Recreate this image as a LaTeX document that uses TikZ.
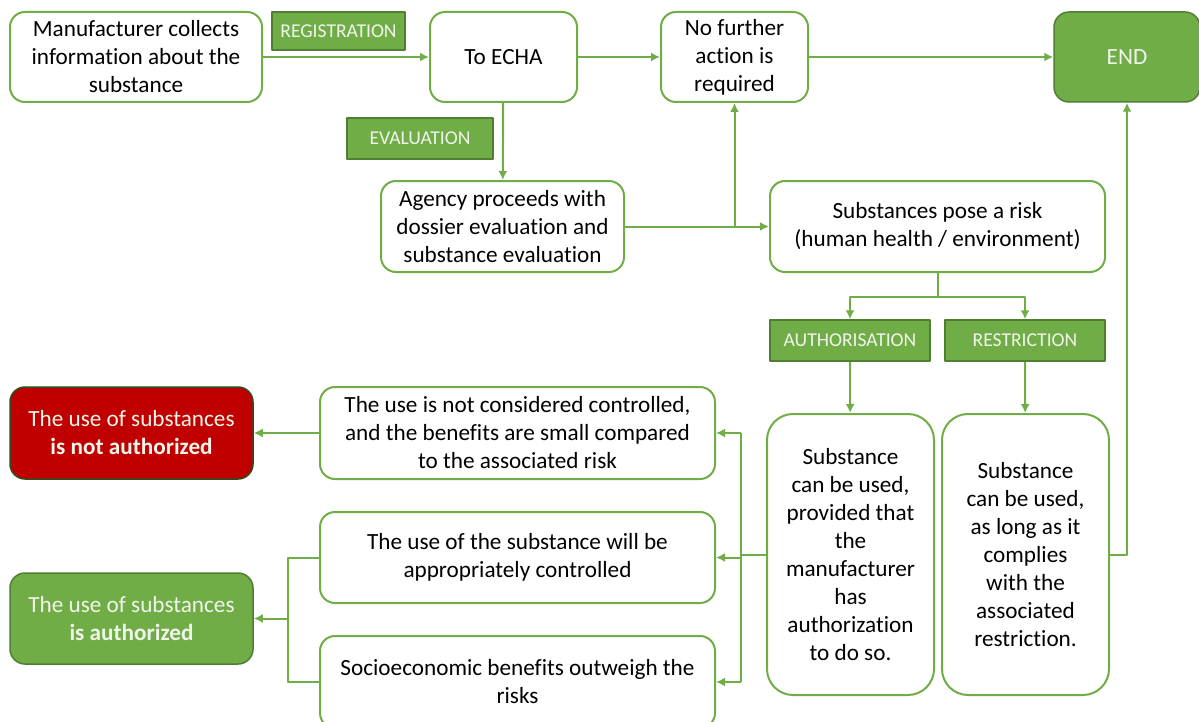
\documentclass[tikz,border=0pt]{standalone}
\usepackage{fontspec}
\setmainfont[Ligatures=NoCommon]{Carlito}
\usetikzlibrary{arrows.meta}
\definecolor{linegreen}{RGB}{112,173,71}
\definecolor{tagedge}{RGB}{80,126,50}
\definecolor{stopred}{RGB}{192,0,0}
\definecolor{paletext}{RGB}{240,245,235}
\tikzset{
  dims/.style 2 args={minimum width=#1*0.5pt,minimum height=#2*0.5pt},
  box/.style={draw=linegreen,line width=1pt,rounded corners=7.5pt,fill=white,
    align=center,inner sep=0pt,font=\fontsize{11.6}{14}\selectfont},
  tallbox/.style={box,rounded corners=13pt},
  tag/.style={draw=tagedge,fill=linegreen,line width=0.75pt,text=paletext,
    inner sep=0pt,font=\fontsize{9.8}{11}\selectfont},
  endbox/.style={box,draw=tagedge,fill=linegreen,text=paletext,line width=0.75pt},
  stopbox/.style={box,draw=tagedge!60!black,fill=stopred,text=paletext,line width=0.75pt},
  okbox/.style={endbox},
  arr/.style={draw=linegreen,line width=1pt,-{Latex[length=4.5pt,width=4.5pt]}},
  wire/.style={draw=linegreen,line width=1pt}
}
\begin{document}
\begin{tikzpicture}[x=0.5pt,y=-0.5pt,line join=round]
\useasboundingbox (0,0) rectangle (1199,722);

% top row
\node[box,dims={252}{90}] (manu) at (136,57) {Manufacturer collects\\information about the\\substance};
\node[tag,dims={133}{38}] (regtag) at (338.5,31) {REGISTRATION};
\node[box,dims={147}{90}] (echa) at (503.5,57) {To ECHA};
\node[box,dims={147}{90}] (nofur) at (734.5,57) {No further\\action is\\required};
\node[endbox,dims={146}{90}] (endb) at (1127,57) {END};

% evaluation
\node[tag,dims={146}{41}] (evaltag) at (420,138.5) {EVALUATION};
\node[box,dims={243}{91}] (agency) at (502.5,226.5) {Agency proceeds with\\dossier evaluation and\\substance evaluation};
\node[box,dims={335}{91}] (risk) at (937.5,226.5) {Substances pose a risk\\(human health / environment)};

% authorisation / restriction
\node[tag,dims={160}{41}] (auth) at (850,340.5) {AUTHORISATION};
\node[tag,dims={160}{41}] (restr) at (1025,340.5) {RESTRICTION};
\node[tallbox,dims={167}{281}] (authtxt) at (850.5,554.5) {Substance\\can be used,\\provided that\\the\\manufacturer\\has\\authorization\\to do so.};
\node[tallbox,dims={167}{281}] (restrtxt) at (1025.5,554.5) {Substance\\can be used,\\as long as it\\complies\\with the\\associated\\restriction.};

% outcomes
\node[box,dims={395}{92}] (notctrl) at (517.5,433) {The use is not considered controlled,\\and the benefits are small compared\\to the associated risk};
\node[box,dims={395}{91}] (ctrl) at (517.5,557.5) {The use of the substance will be\\appropriately controlled};
\node[box,dims={395}{92}] (socio) at (517.5,682) {Socioeconomic benefits outweigh the\\risks};
\node[stopbox,dims={243}{92}] (nobox) at (131.5,433) {The use of substances\\\textbf{is not authorized}};
\node[okbox,dims={243}{91}] (yesbox) at (131.5,618.5) {The use of substances\\\textbf{is authorized}};

% connectors
\draw[arr] (manu) -- (echa);
\draw[arr] (echa) -- (nofur);
\draw[arr] (nofur) -- (endb);
\draw[arr] (echa) -- (agency);
\draw[arr] (agency) -- (risk);
\coordinate (split) at (agency.east -| nofur);
\draw[arr] (split) -- (nofur);

\coordinate (fork) at (937.5,297);
\draw[wire] (risk) -- (fork);
\draw[arr] (fork) -| (auth);
\draw[arr] (fork) -| (restr);
\draw[arr] (auth) -- (authtxt);
\draw[arr] (restr) -- (restrtxt);
\draw[arr] (restrtxt.east) -| (endb);

\coordinate (busmid) at (741,554.5);
\coordinate (bustop) at (741,433);
\coordinate (busbot) at (741,682);
\draw[wire] (authtxt) -- (busmid);
\draw[wire] (bustop) -- (busbot);
\draw[arr] (bustop) -- (notctrl);
\draw[arr] (busmid |- ctrl) -- (ctrl);
\draw[arr] (busbot) -- (socio);

\draw[arr] (notctrl) -- (nobox);
\coordinate (join) at (288,618.5);
\draw[wire] (ctrl.west) -| (join) |- (socio.west);
\draw[arr] (join) -- (yesbox);
\end{tikzpicture}
\end{document}
